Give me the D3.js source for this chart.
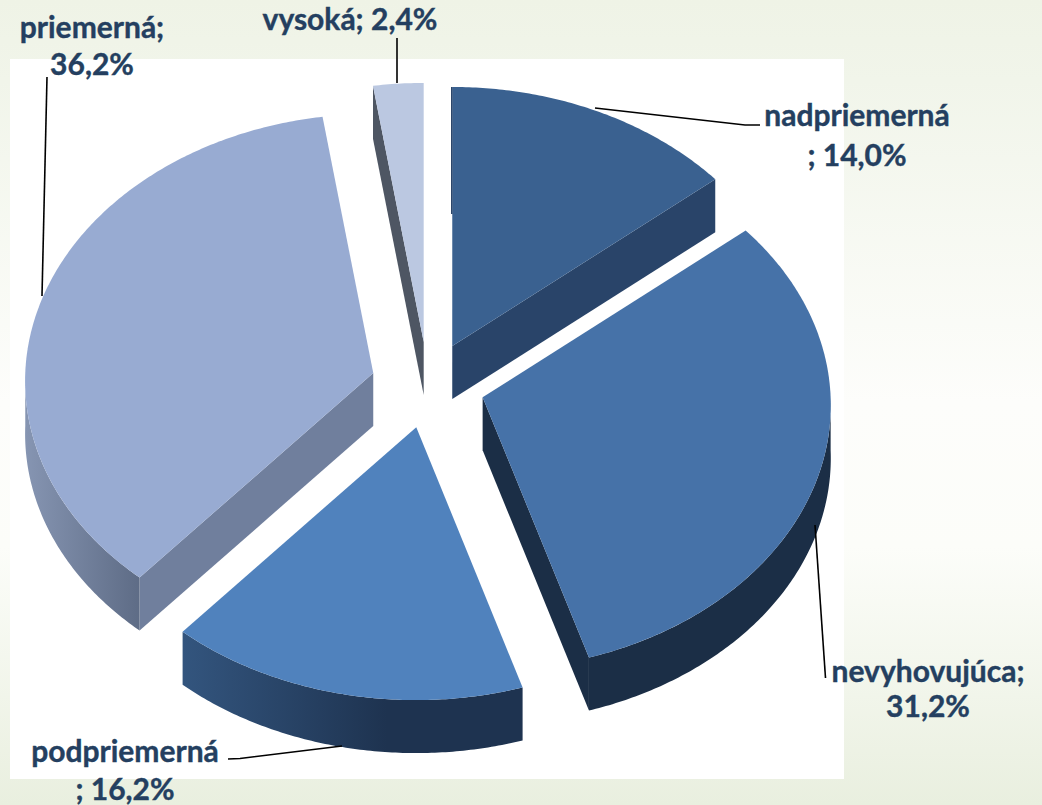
<!DOCTYPE html>
<html>
<head>
<meta charset="utf-8">
<script src="https://cdn.jsdelivr.net/npm/d3@7"></script>
<style>
  html, body { margin: 0; padding: 0; background: #fff; overflow: hidden; }
  text { font-family: Lato, "Open Sans", sans-serif; font-weight: 700; fill: #243f60; stroke: #243f60; stroke-width: 0.4; text-anchor: middle; }
</style>
</head>
<body>
<svg id="chart" width="1042" height="805"></svg>
<script>
// chart data, clockwise from 12 o'clock
const categories = ["nadpriemerná", "nevyhovujúca", "podpriemerná", "priemerná", "vysoká"];
const shares = [14.0, 31.2, 16.2, 36.2, 2.4];
const labelLines = [
  ["nadpriemerná", "; 14,0%"],
  ["nevyhovujúca;", "31,2%"],
  ["podpriemerná", "; 16,2%"],
  ["priemerná;", "36,2%"],
  ["vysoká; 2,4%"]
];

// colours per slice
const topColors = ["#3a6190", "#4672a8", "#5082bd", "#98abd2", "#bbc8e1"];
const cutColors = ["#294469", "#1b2e46", "#1e3350", "#707f9d", "#4e5663"];
const wallColors = [
  ["#294469", "#294469"],
  ["#1b2e46", "#1b2e46"],
  ["#33557e", "#1e3350"],
  ["#8695b2", "#5e6c86"],
  ["#4e5663", "#4e5663"]
];

// label placement: centre x, first baseline, line step
const labelPos = [
  { x: 857, y: 126, dy: 40 },
  { x: 928, y: 682, dy: 35 },
  { x: 125, y: 762, dy: 38 },
  { x: 92, y: 38, dy: 37 },
  { x: 350, y: 30, dy: 0 }
];
// leader lines
const leaders = [
  [[595, 108], [745, 125], [760, 125]],
  [[815, 525], [825.5, 678]],
  [[342, 746], [240, 758.5], [228, 759]],
  [[47, 77], [42, 296]],
  [[397, 38], [397, 83]]
];

// pie geometry
const cx = 428, cy = 385;
const rx = 348, ry = 266;
const squash = 0.756;
const explode = 57;
const perspectiveX = 0.03, perspectiveY = 0.026;
const depth = 53;

const svg = d3.select("#chart");
const defs = svg.append("defs");

// page background
const bg = defs.append("linearGradient")
  .attr("id", "bg")
  .attr("x1", "0%").attr("y1", "0%")
  .attr("x2", "0%").attr("y2", "100%");
[[0, "#eff3e6"], [0.1, "#f1f5ea"], [0.5, "#fdfdfb"], [0.68, "#fcfdf9"], [1, "#e9efdf"]].forEach(s => {
  bg.append("stop").attr("offset", s[0]).attr("stop-color", s[1]);
});
svg.append("rect").attr("width", 1042).attr("height", 805).attr("fill", "url(#bg)");
svg.append("rect")
  .attr("x", 10).attr("y", 59)
  .attr("width", 834).attr("height", 720)
  .attr("fill", "#fff");

const pie = d3.pie().sort(null).value(d => d);
const slices = pie(shares);
const line = d3.line();

// angle on the tilted disc -> screen position
function project(angle, mid, r, z) {
  const ox = explode * Math.sin(mid);
  const oy = -explode * squash * Math.cos(mid);
  const sx = 1 - perspectiveX * Math.cos(angle) * r;
  const sy = 1 - perspectiveY * Math.cos(angle) * r;
  return [
    cx + ox + rx * r * Math.sin(angle) * sx,
    cy + oy - ry * r * Math.cos(angle) * sy + z
  ];
}

function arcPoints(a0, a1, mid, z) {
  const n = Math.max(2, Math.ceil((a1 - a0) / 0.01));
  return d3.range(n + 1).map(i => project(a0 + (a1 - a0) * i / n, mid, 1, z));
}

function drawSlice(i) {
  const d = slices[i];
  const a0 = d.startAngle, a1 = d.endAngle;
  const mid = (a0 + a1) / 2;
  const g = svg.append("g").attr("class", "slice").attr("data-name", categories[i]);
  const apex = project(a0, mid, 0, 0);
  const apexLow = project(a0, mid, 0, depth);

  // cut faces, only those turned towards the viewer
  [a0, a1].forEach((a, k) => {
    const normal = k === 0 ? a - Math.PI / 2 : a + Math.PI / 2;
    if (Math.cos(normal) < 0) {
      const rim = project(a, mid, 1, 0);
      const rimLow = project(a, mid, 1, depth);
      g.append("path")
        .attr("d", line([apex, rim, rimLow, apexLow]) + "Z")
        .attr("fill", cutColors[i]);
    }
  });

  // outer wall on the front half of the disc
  const w0 = Math.max(a0, Math.PI / 2), w1 = Math.min(a1, Math.PI * 1.5);
  if (w1 > w0) {
    const upper = arcPoints(w0, w1, mid, 0);
    const lower = arcPoints(w0, w1, mid, depth).reverse();
    const ext = d3.extent(upper, p => p[0]);
    const grad = defs.append("linearGradient")
      .attr("id", "wall" + i)
      .attr("gradientUnits", "userSpaceOnUse")
      .attr("x1", ext[0]).attr("x2", i === 2 ? ext[0] + (ext[1] - ext[0]) * 0.6 : ext[1])
      .attr("y1", 0).attr("y2", 0);
    grad.append("stop").attr("offset", 0).attr("stop-color", wallColors[i][0]);
    grad.append("stop").attr("offset", 1).attr("stop-color", wallColors[i][1]);
    g.append("path")
      .attr("d", line(upper.concat(lower)) + "Z")
      .attr("fill", "url(#wall" + i + ")");
  }

  // top face
  g.append("path")
    .attr("d", line([apex].concat(arcPoints(a0, a1, mid, 0))) + "Z")
    .attr("fill", topColors[i]);
}

// back slices first
[3, 4, 0, 1, 2].forEach(drawSlice);

// thin dark seam on the left edge of the first slice
const seamTop = project(slices[0].startAngle, (slices[0].startAngle + slices[0].endAngle) / 2, 1, 0);
svg.append("path")
  .attr("d", line([seamTop, [seamTop[0], seamTop[1] + 127]]))
  .attr("stroke", "#294469")
  .attr("stroke-width", 1.5)
  .attr("transform", "translate(-0.5,0)");

// leaders
svg.selectAll("path.leader")
  .data(leaders)
  .join("path")
  .attr("class", "leader")
  .attr("d", d => line(d))
  .attr("fill", "none")
  .attr("stroke", "#000")
  .attr("stroke-width", 1.6);

// labels
labelLines.forEach((lines, i) => {
  const t = svg.append("text")
    .attr("x", labelPos[i].x)
    .attr("y", labelPos[i].y)
    .attr("font-size", 30);
  lines.forEach((s, k) => {
    t.append("tspan")
      .attr("x", labelPos[i].x)
      .attr("y", labelPos[i].y + k * labelPos[i].dy)
      .text(s);
  });
});
</script>
</body>
</html>
